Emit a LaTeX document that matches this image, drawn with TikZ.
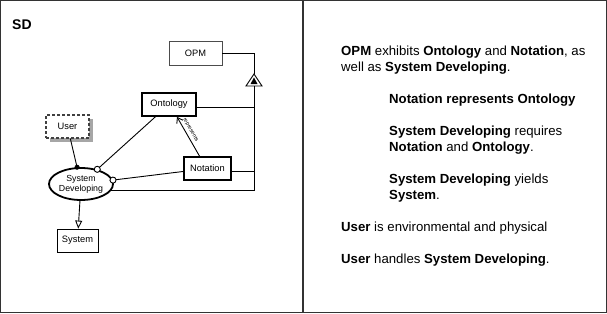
\documentclass[tikz,border=0pt]{standalone}
\usepackage{fontspec}
\setmainfont{Liberation Sans}
\usetikzlibrary{shapes.geometric,arrows.meta,shadows}

\begin{document}
\begin{tikzpicture}[x=1pt,y=-1pt,
  thing/.style={draw,fill=white,inner sep=0pt,line width=0.8pt,font=\fontsize{9.3}{10}\selectfont},
  keything/.style={thing,line width=1.8pt},
  proc/.style={ellipse,draw,fill=white,line width=1.8pt,minimum width=64pt,minimum height=32pt,inner sep=0pt,align=center,font=\fontsize{8.8}{9.8}\selectfont},
  link/.style={line width=0.9pt},
  txt/.style={anchor=base west,inner sep=0pt,font=\fontsize{13.2}{16}\selectfont}]
\useasboundingbox (0,0) rectangle (607,313);
\draw[line width=1.2pt,black!80] (0.6,0.6) rectangle (606.4,312.4);
\draw[line width=1.2pt,black!80] (303,0) -- (303,313);

\node[anchor=west,inner sep=0pt,font=\bfseries\fontsize{14}{16}\selectfont] (title) at (12,25) {SD};

\node[thing,draw=black!70,minimum width=53pt,minimum height=24pt] (opm) at (195.5,53) {OPM};
\node[keything,minimum width=54pt,minimum height=23pt] (ont) at (169,104.5) {Ontology};
\node[keything,minimum width=47pt,minimum height=23pt] (nota) at (207.5,168.5) {Notation};
\node[thing,draw=black!75,line width=1.1pt,dash pattern=on 3pt off 2pt,minimum width=43pt,minimum height=23pt,
  drop shadow={shadow xshift=4pt,shadow yshift=-4pt,fill=black!35,opacity=1}] (user) at (67.5,126.5) {User};
\node[proc] (sd) at (81,184) {System\\Developing};
\node[thing,minimum width=41pt,minimum height=23pt] (sys) at (77.5,240.5) {System};

\coordinate (aggtop) at (254,74);
\coordinate (aggbase) at (254,86);
\draw[link] (opm.east) -| (aggtop);
\draw[link,fill=white] (aggtop) -- ++(8,12) -- ++(-16,0) -- cycle;
\fill (254,77.5) -- ++(3.5,6.5) -- ++(-7,0) -- cycle;
\draw[link] (aggbase) -- (sd.-12 -| aggbase) -- (sd.-12);
\draw[link] ([yshift=-2.5pt]ont.east) -- ([yshift=-2.5pt]ont.east -| aggbase);
\draw[link] ([yshift=-2.5pt]nota.east) -- ([yshift=-2.5pt]nota.east -| aggbase);

\draw[link,-{Circle[length=5pt]},shorten >=-2.5pt] (user) -- (sd);
\draw[link,-{Circle[open,length=7pt,fill=white]},shorten >=-3.5pt] (ont) -- (sd);
\draw[link,-{Circle[open,length=7pt,fill=white]},shorten >=-3.5pt] (nota) -- (sd);
\draw[link,-{Triangle[open,length=8pt,width=7pt]}] (sd) -- (sys);
\draw[link,-{Straight Barb[length=5pt,width=7pt]}] ([xshift=-8pt]nota.north) -- ([xshift=8pt]ont.south)
  node[sloped,above,pos=0.6,inner sep=2.5pt,font=\fontsize{5.5}{6}\selectfont] (replabel) {represents};

\node[txt] (exhibitsA) at (341,55.7) {\textbf{OPM} exhibits \textbf{Ontology} and \textbf{Notation}, as};
\node[txt] (exhibitsB) at (341,71.7) {well as \textbf{System Developing}.};
\node[txt] (represents) at (389,103.7) {\textbf{Notation represents Ontology}};
\node[txt] (requiresA) at (389,135.7) {\textbf{System Developing} requires};
\node[txt] (requiresB) at (389,151.7) {\textbf{Notation} and \textbf{Ontology}.};
\node[txt] (yieldsA) at (389,183.7) {\textbf{System Developing} yields};
\node[txt] (yieldsB) at (389,199.7) {\textbf{System}.};
\node[txt] (userenv) at (341,231.7) {\textbf{User} is environmental and physical};
\node[txt] (handles) at (341,263.7) {\textbf{User} handles \textbf{System Developing}.};
\end{tikzpicture}
\end{document}
